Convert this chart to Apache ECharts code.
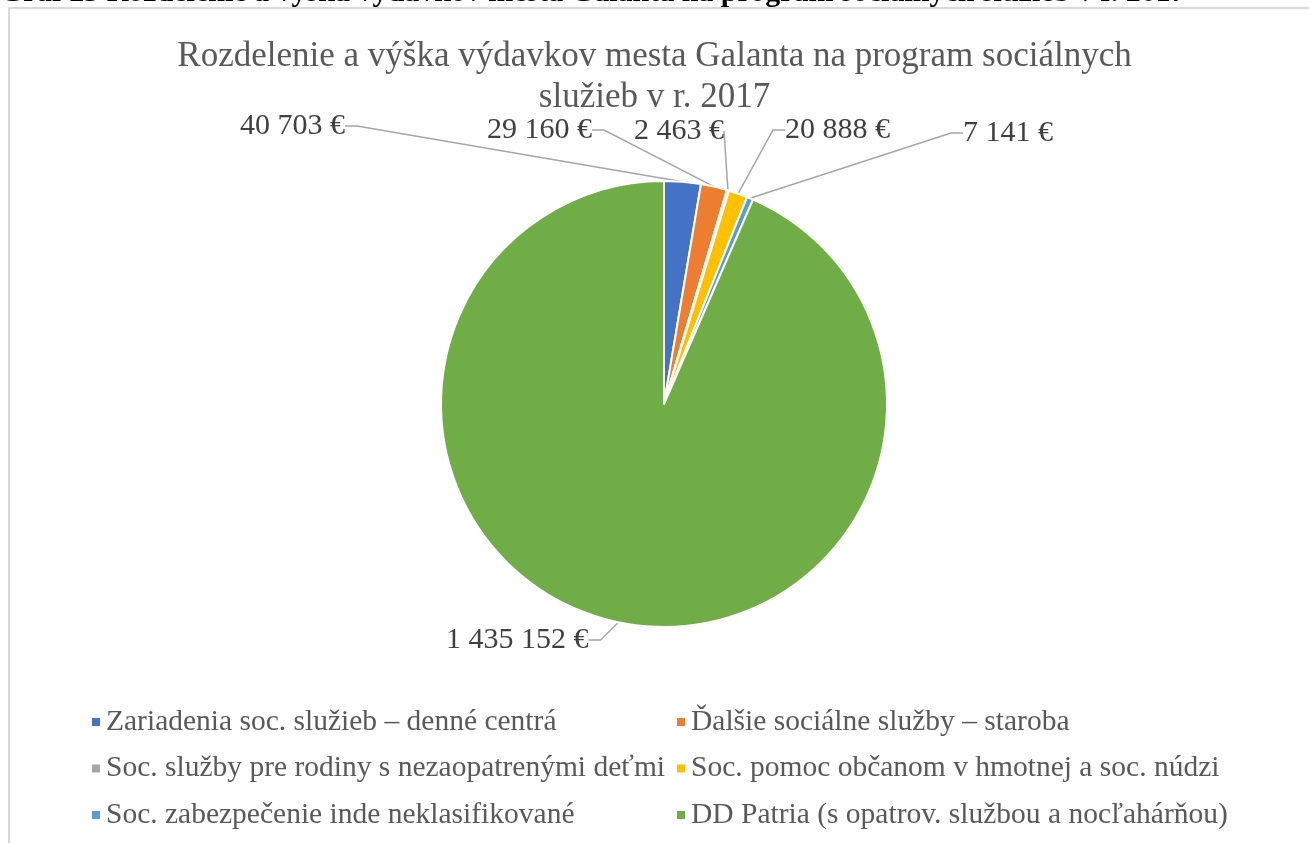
<!DOCTYPE html>
<html>
<head>
<meta charset="utf-8">
<title>Rozdelenie a výška výdavkov mesta Galanta</title>
<script src="https://cdn.jsdelivr.net/npm/echarts@6/dist/echarts.min.js"></script>
<style>
  html, body { margin: 0; padding: 0; background: #fff; }
  #chart { width: 1309px; height: 843px; }
</style>
</head>
<body>
<div id="chart"></div>
<script>
// data
var categories = [
  'Zariadenia soc. služieb – denné centrá',
  'Ďalšie sociálne služby – staroba',
  'Soc. služby pre rodiny s nezaopatrenými deťmi',
  'Soc. pomoc občanom v hmotnej a soc. núdzi',
  'Soc. zabezpečenie inde neklasifikované',
  'DD Patria (s opatrov. službou a nocľahárňou)'
];
var values = [40703, 29160, 2463, 20888, 7141, 1435152];
var colors = ['#4472C4', '#ED7D31', '#A5A5A5', '#FFC000', '#5B9BD5', '#70AD47'];

// label placement (left x, middle y) like in the excel chart
var labelPos = [[240, 126], [487, 130], [634, 131], [785, 130], [963, 133], [446, 640]];
// length of the short horizontal part of each leader line
var lineEnd = [12, 12, 0, 12, 12, 12];

var serif = 'Liberation Serif';

function euro(v) {
  return String(v).replace(/\B(?=(\d{3})+(?!\d))/g, ' ') + ' €';
}

var chart = echarts.init(document.getElementById('chart'));

chart.setOption({
  backgroundColor: '#fff',
  color: colors,
  textStyle: { fontFamily: serif },
  title: {
    text: 'Rozdelenie a výška výdavkov mesta Galanta na program sociálnych\nslužieb v r. 2017',
    left: 'center',
    top: 31,
    textStyle: {
      fontFamily: serif,
      fontSize: 35,
      fontWeight: 'normal',
      color: '#595959',
      lineHeight: 41
    }
  },
  graphic: [
    {
      type: 'rect',
      shape: { x: 9, y: 8, width: 1400, height: 900 },
      style: { fill: 'none', stroke: '#d9d9d9', lineWidth: 2 },
      silent: true
    },
    {
      // caption of the document, cut at the top edge
      type: 'text',
      x: 0,
      y: 8,
      style: {
        text: 'Graf 23 Rozdelenie a výška výdavkov mesta Galanta na program sociálnych služieb v r. 2017',
        font: 'bold 30px ' + serif,
        fill: '#000',
        verticalAlign: 'bottom'
      },
      silent: true
    }
  ],
  legend: [
    {
      orient: 'vertical',
      left: 85,
      top: 702,
      itemWidth: 10,
      itemHeight: 10,
      itemGap: 16.5,
      icon: 'rect',
      data: [categories[0], categories[2], categories[4]],
      textStyle: { fontFamily: serif, fontSize: 29.5, lineHeight: 30, color: '#595959' }
    },
    {
      orient: 'vertical',
      left: 670,
      top: 702,
      itemWidth: 10,
      itemHeight: 10,
      itemGap: 16.5,
      icon: 'rect',
      data: [categories[1], categories[3], categories[5]],
      textStyle: { fontFamily: serif, fontSize: 29.5, lineHeight: 30, color: '#595959' }
    }
  ],
  series: [
    {
      type: 'pie',
      center: [664, 404],
      radius: 223,
      startAngle: 90,
      clockwise: true,
      avoidLabelOverlap: false,
      animation: false,
      itemStyle: { borderColor: '#fff', borderWidth: 2 },
      label: {
        show: true,
        position: 'outside',
        formatter: function (p) { return euro(p.value); },
        fontFamily: serif,
        fontSize: 30,
        color: '#404040'
      },
      labelLine: {
        show: true,
        length: 20,
        length2: 12,
        lineStyle: { color: '#A6A6A6', width: 1.5 }
      },
      labelLayout: function (p) {
        var pos = labelPos[p.dataIndex];
        return { x: pos[0], y: pos[1], align: 'left', verticalAlign: 'middle' };
      },
      data: categories.map(function (c, i) {
        return { name: c, value: values[i], labelLine: { length2: lineEnd[i] } };
      })
    }
  ]
});
</script>
</body>
</html>
